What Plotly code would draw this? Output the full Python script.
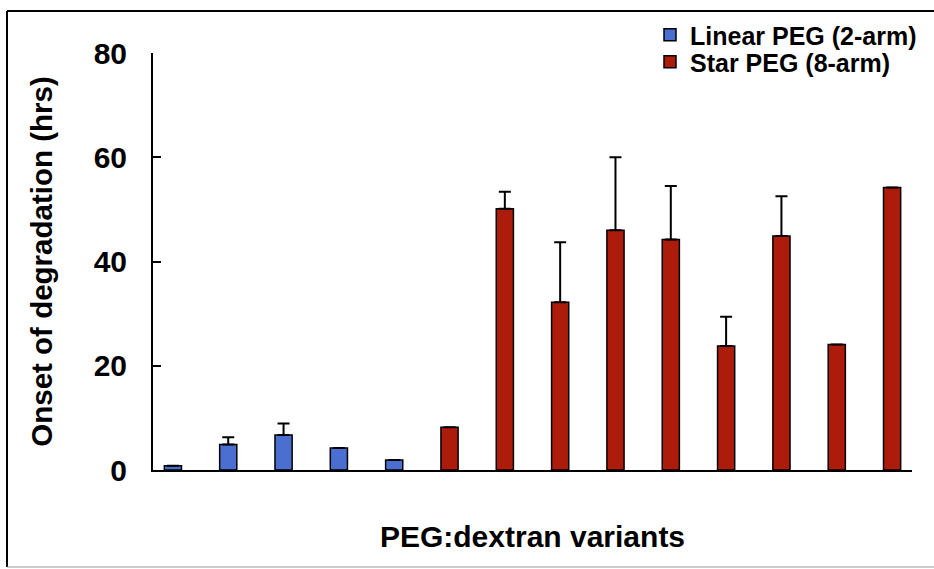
import plotly.graph_objects as go

# ---- data ----
linear_variants = ["L1", "L2", "L3", "L4", "L5"]
linear_values = [0.8, 4.9, 6.7, 4.2, 1.9]
linear_err = [None, 1.4, 2.2, None, None]

star_variants = ["S1", "S2", "S3", "S4", "S5", "S6", "S7", "S8", "S9"]
star_values = [8.2, 50.1, 32.2, 46.0, 44.2, 23.8, 44.9, 24.1, 54.2]
star_err = [None, 3.3, 11.5, 14.0, 10.3, 5.6, 7.6, None, None]

all_variants = linear_variants + star_variants
y_ticks = [0, 20, 40, 60, 80]

BLUE = "#4a6fd1"
RED = "#ad1b0b"
FONT = "Liberation Sans, Arial, sans-serif"

W, H = 934, 569
L, R, T, B = 153, 22, 53, 99
PW, PH = W - L - R, H - T - B


def px_x(p):
    return (p - L) / PW


def px_y(p):
    return (H - B - p) / PH


legend_font = dict(size=25, family=FONT, color="black", weight="bold")

fig = go.Figure()
fig.add_trace(go.Bar(
    x=linear_variants, y=linear_values, name="Linear PEG (2-arm)",
    marker=dict(color=BLUE, line=dict(color="black", width=1.5)),
    width=0.31, legend="legend",
    error_y=dict(type="data", array=linear_err, symmetric=False,
                 arrayminus=[0] * len(linear_err), color="black",
                 thickness=2, width=6),
))
fig.add_trace(go.Bar(
    x=star_variants, y=star_values, name="Star PEG (8-arm)",
    marker=dict(color=RED, line=dict(color="black", width=1.5)),
    width=0.31, legend="legend2",
    error_y=dict(type="data", array=star_err, symmetric=False,
                 arrayminus=[0] * len(star_err), color="black",
                 thickness=2, width=6),
))

frame_line = dict(color="black", width=2)
fig.update_layout(
    width=W, height=H,
    margin=dict(l=L, r=R, t=T, b=B, autoexpand=False),
    paper_bgcolor="white", plot_bgcolor="white",
    barmode="overlay",
    font=dict(family=FONT, color="black"),
    showlegend=True,
    legend=dict(
        x=px_x(650), y=px_y(35), xanchor="left", yanchor="middle",
        font=legend_font, bgcolor="rgba(0,0,0,0)", itemwidth=30,
    ),
    legend2=dict(
        x=px_x(650), y=px_y(62), xanchor="left", yanchor="middle",
        font=legend_font, bgcolor="rgba(0,0,0,0)", itemwidth=30,
    ),
    xaxis=dict(
        type="category", categoryorder="array", categoryarray=all_variants,
        range=[-0.36, len(all_variants) - 1 + 0.36],
        showticklabels=False, ticks="", showgrid=False, zeroline=False,
        showline=True, linecolor="black", linewidth=2,
        title=dict(text="PEG:dextran variants", standoff=55,
                   font=dict(size=30, family=FONT, color="black", weight="bold")),
    ),
    yaxis=dict(
        range=[0, 80], tickvals=y_ticks, ticktext=[str(v) for v in y_ticks],
        ticks="inside", ticklen=8, tickwidth=2, tickcolor="black",
        showgrid=False, zeroline=False,
        showline=True, linecolor="black", linewidth=2,
        ticklabelstandoff=18,
        tickfont=dict(size=30, family=FONT, color="black", weight="bold"),
        title=dict(text="Onset of degradation (hrs)", standoff=32,
                   font=dict(size=29.5, family=FONT, color="black", weight="bold")),
    ),
    shapes=[
        dict(type="line", xref="paper", yref="paper",
             x0=px_x(7), x1=px_x(W), y0=px_y(11), y1=px_y(11), line=frame_line),
        dict(type="line", xref="paper", yref="paper",
             x0=px_x(7), x1=px_x(7), y0=px_y(11), y1=px_y(567), line=frame_line),
        dict(type="line", xref="paper", yref="paper",
             x0=px_x(7), x1=px_x(W), y0=px_y(567), y1=px_y(567),
             line=dict(color="#999999", width=1)),
    ],
)

fig.write_html("out.html", config={"displayModeBar": False},
               post_script="document.body.style.margin='0';")
